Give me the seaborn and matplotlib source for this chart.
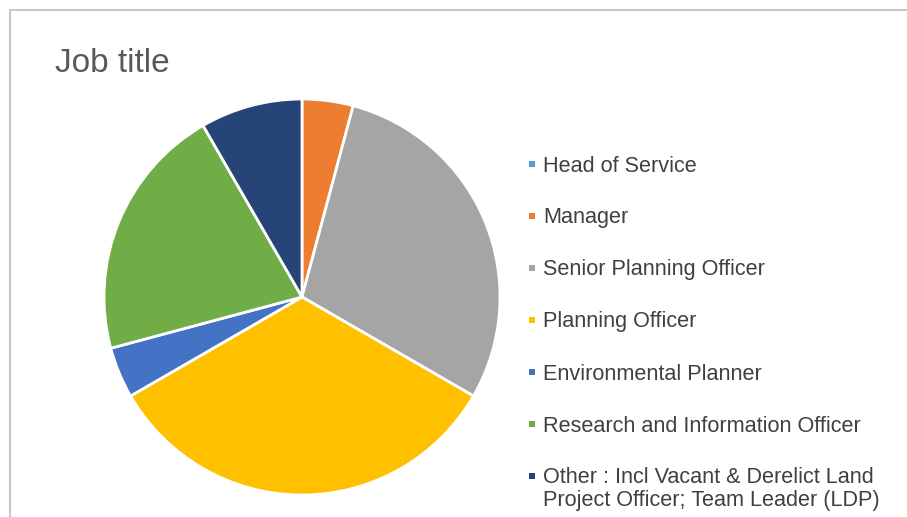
import matplotlib
matplotlib.use("Agg")
import matplotlib.pyplot as plt
import seaborn as sns

# data (counts)
job_titles = [
    "Head of Service",
    "Manager",
    "Senior Planning Officer",
    "Planning Officer",
    "Environmental Planner",
    "Research and Information Officer",
    "Other : Incl Vacant & Derelict Land\nProject Officer; Team Leader (LDP)",
]
counts = [0, 1, 7, 8, 1, 5, 2]
colors = ["#5B9BD5", "#ED7D31", "#A5A5A5", "#FFC000", "#4472C4", "#70AD47", "#264478"]

sns.set_theme(style="white")
plt.rcParams["font.family"] = ["Liberation Sans", "DejaVu Sans"]

W, H = 907, 517
fig = plt.figure(figsize=(W / 100, H / 100), dpi=100)

# overlay in pixel coords for frame, title and legend
lay = fig.add_axes([0, 0, 1, 1])
lay.set_xlim(0, W)
lay.set_ylim(H, 0)
lay.axis("off")
lay.plot([10, 10, W], [H, 10, 10], color="#c8c8c8", lw=1.5)
lay.text(55, 63, "Job title", fontsize=24, color="#595959", va="center", ha="left")

# legend entries (marker next to the first line of each label)
for i, (lab, c) in enumerate(zip(job_titles, colors)):
    y = 164 + 52 * i
    nlines = lab.count("\n") + 1
    lay.scatter([532], [y], marker="s", s=22, color=c, linewidths=0)
    lay.text(543, y + 2 + 11 * (nlines - 1), lab, fontsize=15.6, color="#404040",
             va="center", ha="left", linespacing=1.12)

cx, cy, r = 302, 297, 200
ax = fig.add_axes([(cx - r) / W, (H - cy - r) / H, 2 * r / W, 2 * r / H])
wedges, _ = ax.pie(
    counts,
    colors=colors,
    startangle=90,
    counterclock=False,
    radius=0.99,
    wedgeprops=dict(edgecolor="white", linewidth=2),
)
ax.set_xlim(-1, 1)
ax.set_ylim(-1, 1)
ax.set_aspect("equal")
ax.axis("off")

fig.savefig("out.png", dpi=100)
